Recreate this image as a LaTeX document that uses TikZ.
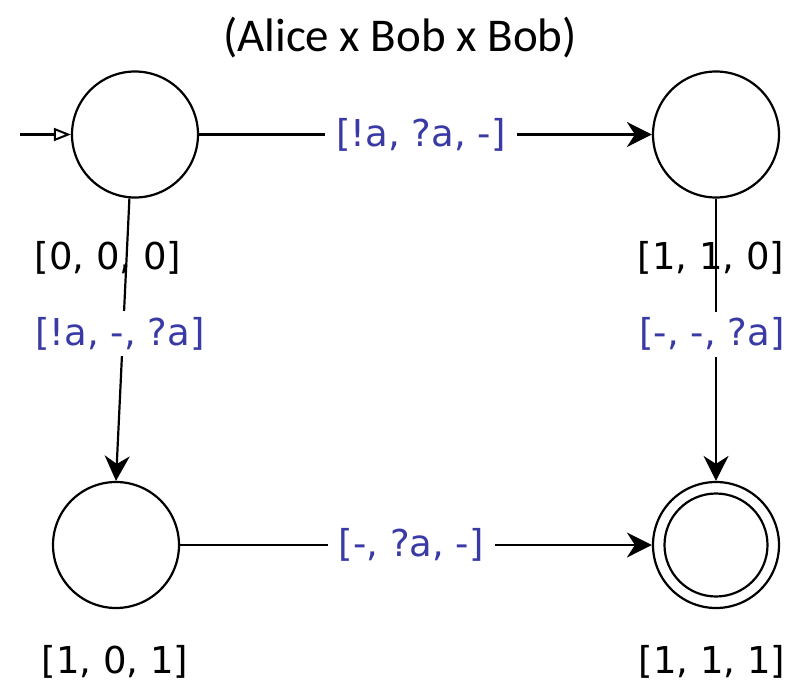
\documentclass[tikz,border=0pt]{standalone}
\usepackage{fontspec}
\setmainfont{DejaVu Sans}
\newfontfamily\titlefont{Carlito}
\usetikzlibrary{arrows.meta}
\definecolor{lblblue}{RGB}{58,58,165}
\tikzset{
  state/.style={circle, draw, line width=2.2pt, minimum size=126pt, inner sep=0pt},
  tr/.style={line width=2.2pt, -{Stealth[length=25pt,width=25pt,inset=8pt]}},
  elabel/.style={fill=white, text=lblblue, inner xsep=11pt, inner ysep=6pt, font=\fontsize{37}{44}\selectfont},
  slabel/.style={inner sep=0pt, font=\fontsize{37}{44}\selectfont},
}
\begin{document}
\begin{tikzpicture}[x=1pt,y=-1pt]
\useasboundingbox (0,0) rectangle (792,688);
\node[font=\titlefont\fontsize{47}{56}\selectfont] (title) at (400,38) {(Alice x Bob x Bob)};
\node[state] (s000) at (135,134.5) {};
\node[state] (s110) at (716,134.5) {};
\node[state] (s101) at (116,545) {};
\node[state] (s111) at (716,545) {};
\draw[line width=2.2pt] (s111.center) circle (51.5pt);
\node[slabel] (l000) at (108,258) {[0, 0, 0]};
\node[slabel] (l110) at (711,258) {[1, 1, 0]};
\node[slabel] (l101) at (115,662) {[1, 0, 1]};
\node[slabel] (l111) at (712,662) {[1, 1, 1]};
\coordinate (init) at (20,134.5);
\draw[line width=2.2pt, -{Triangle[open,length=17pt,width=13pt,line width=2pt]}] (init) -- (s000.west);
\draw[tr] (s000.east) -- node[elabel, pos=0.49] (e1) {[!a, ?a, -]} (s110.west);
\draw[tr] (s000.265) -- node[elabel, pos=0.48, xshift=-3pt] (e2) {[!a, -, ?a]} (s101.north);
\draw[tr] (s110.south) -- node[elabel, pos=0.48, xshift=-4pt] (e3) {[-, -, ?a]} (s111.north);
\draw[tr] (s101.east) -- node[elabel, pos=0.49] (e4) {[-, ?a, -]} (s111.west);
\end{tikzpicture}
\end{document}
